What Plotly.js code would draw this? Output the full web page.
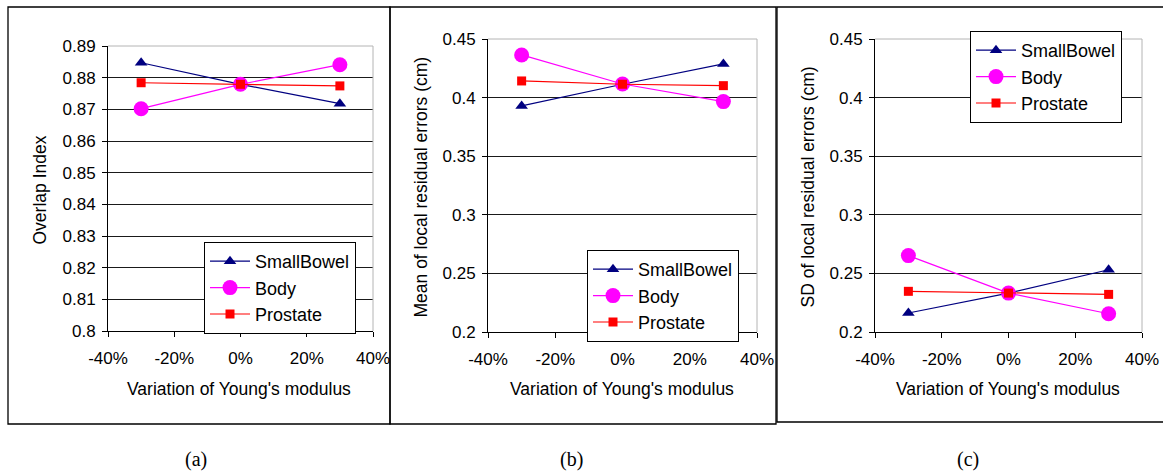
<!DOCTYPE html>
<html>
<head>
<meta charset="utf-8">
<script src="https://cdn.plot.ly/plotly-3.0.1.min.js"></script>
<style>html,body{margin:0;padding:0;background:#fff;}#chart{width:1163px;height:471px;}</style>
</head>
<body>
<div id="chart"></div>
<script>
// ---- data ----
const variation = [-0.3, 0, 0.3];
const seriesNames = ['SmallBowel', 'Body', 'Prostate'];

const overlapSmallBowel = [0.8847, 0.8779, 0.8718];
const overlapBody = [0.8702, 0.8779, 0.8841];
const overlapProstate = [0.8784, 0.8779, 0.8774];

const meanSmallBowel = [0.3929, 0.4114, 0.4287];
const meanBody = [0.4364, 0.4116, 0.3966];
const meanProstate = [0.4142, 0.4114, 0.4102];

const sdSmallBowel = [0.2162, 0.2332, 0.2531];
const sdBody = [0.2652, 0.2332, 0.2156];
const sdProstate = [0.2347, 0.2332, 0.2321];

const xTickVals = [-0.4, -0.2, 0, 0.2, 0.4];
const xTickText = ['-40%', '-20%', '0%', '20%', '40%'];
const overlapTickVals = [0.8, 0.81, 0.82, 0.83, 0.84, 0.85, 0.86, 0.87, 0.88, 0.89];
const overlapTickText = ['0.8', '0.81', '0.82', '0.83', '0.84', '0.85', '0.86', '0.87', '0.88', '0.89'];
const errTickVals = [0.2, 0.25, 0.3, 0.35, 0.4, 0.45];
const errTickText = ['0.2', '0.25', '0.3', '0.35', '0.4', '0.45'];

const xTitle = "Variation of Young's modulus";
const yTitles = ['Overlap Index', 'Mean of local residual errors (cm)', 'SD of local residual errors (cm)'];
const panelLabels = ['(a)', '(b)', '(c)'];

// ---- layout helpers ----
const W = 1163, H = 471;
const px = v => v / W;
const py = v => 1 - v / H;
const FONT = 'Arial, "Liberation Sans", sans-serif';

const styles = [
  {color: '#000080', symbol: 'triangle-up', size: 11},
  {color: '#ff00ff', symbol: 'circle', size: 15},
  {color: '#ff0000', symbol: 'square', size: 9}
];

const panels = [
  {ys: [overlapSmallBowel, overlapBody, overlapProstate], plot: [108, 373, 46, 331], range: [0.8, 0.89],
   tv: overlapTickVals, tt: overlapTickText, box: [8, 390, 7, 424], legend: [204, 288], ytitleX: 39, xtitleX: 239, labelX: 196},
  {ys: [meanSmallBowel, meanBody, meanProstate], plot: [488, 757, 39, 332], range: [0.2, 0.45],
   tv: errTickVals, tt: errTickText, box: [390, 776, 7, 424], legend: [587, 296], ytitleX: 420, xtitleX: 622, labelX: 571},
  {ys: [sdSmallBowel, sdBody, sdProstate], plot: [875, 1142, 39, 332], range: [0.2, 0.45],
   tv: errTickVals, tt: errTickText, box: [777, 1166, 7, 422], legend: [970, 77], ytitleX: 807, xtitleX: 1008, labelX: 968}
];

const traces = [];
const layout = {
  width: W, height: H, margin: {l: 0, r: 0, t: 0, b: 0},
  paper_bgcolor: '#fff', plot_bgcolor: '#fff',
  font: {family: FONT, size: 17, color: '#000'},
  showlegend: true, shapes: [], annotations: []
};

panels.forEach((p, i) => {
  const n = i === 0 ? '' : String(i + 1);
  const xa = 'x' + n, ya = 'y' + n;
  const leg = i === 0 ? 'legend' : 'legend' + (i + 1);
  p.ys.forEach((vals, k) => {
    traces.push({
      x: variation, y: vals, name: seriesNames[k], type: 'scatter', mode: 'lines+markers',
      xaxis: xa, yaxis: ya, legend: leg,
      line: {color: styles[k].color, width: 1.2},
      marker: {color: styles[k].color, symbol: styles[k].symbol, size: styles[k].size}
    });
  });
  layout['xaxis' + n] = {
    domain: [px(p.plot[0]), px(p.plot[1])], anchor: ya, range: [-0.4, 0.4],
    tickvals: xTickVals, ticktext: xTickText, ticks: 'outside', ticklen: 5, tickcolor: '#000',
    showline: true, linecolor: '#000', linewidth: 1, showgrid: false, zeroline: false,
    tickfont: {size: 17, family: FONT}, ticklabelstandoff: 7, fixedrange: true
  };
  layout['yaxis' + n] = {
    domain: [py(p.plot[3]), py(p.plot[2])], anchor: xa, range: p.range,
    tickvals: p.tv, ticktext: p.tt, ticks: 'outside', ticklen: 5, tickcolor: '#000',
    showline: true, linecolor: '#000', linewidth: 1, showgrid: true, gridcolor: '#1a1a1a', gridwidth: 1,
    zeroline: false, tickfont: {size: 17, family: FONT}, ticklabelstandoff: 3, fixedrange: true
  };
  layout[leg] = {
    x: px(p.legend[0]), y: py(p.legend[1]), xanchor: 'left', yanchor: 'middle',
    bgcolor: '#fff', bordercolor: '#000', borderwidth: 1,
    font: {size: 18, family: FONT}, tracegroupgap: 0, itemwidth: 40
  };
  // grey top and right frame of plot area
  layout.shapes.push({type: 'line', xref: xa + ' domain', yref: ya + ' domain', x0: 0, x1: 1, y0: 1, y1: 1, line: {color: '#b4b4b4', width: 1}});
  layout.shapes.push({type: 'line', xref: xa + ' domain', yref: ya + ' domain', x0: 1, x1: 1, y0: 0, y1: 1, line: {color: '#b4b4b4', width: 1}});
  // outer panel frame
  layout.shapes.push({type: 'rect', xref: 'paper', yref: 'paper', x0: px(p.box[0]), x1: px(p.box[1]), y0: py(p.box[3]), y1: py(p.box[2]), line: {color: '#000', width: 1.3}});
  // axis titles
  layout.annotations.push({xref: 'paper', yref: 'paper', x: px(p.ytitleX), y: py((p.plot[2] + p.plot[3]) / 2 + 2), text: yTitles[i], textangle: -90, showarrow: false, font: {size: 17.5, family: FONT}, xanchor: 'center', yanchor: 'middle'});
  layout.annotations.push({xref: 'paper', yref: 'paper', x: px(p.xtitleX), y: py(389), text: xTitle, showarrow: false, font: {size: 17.5, family: FONT}, xanchor: 'center', yanchor: 'middle'});
  layout.annotations.push({xref: 'paper', yref: 'paper', x: px(p.labelX), y: py(459), text: panelLabels[i], showarrow: false, font: {size: 20, family: '"Liberation Serif", "Times New Roman", serif'}, xanchor: 'center', yanchor: 'middle'});
});

Plotly.newPlot('chart', traces, layout, {displayModeBar: false, staticPlot: true});
</script>
</body>
</html>
